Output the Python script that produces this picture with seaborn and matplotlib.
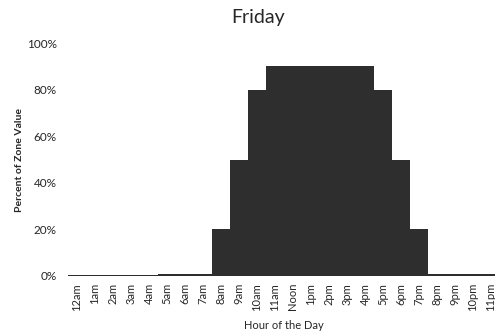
import matplotlib
matplotlib.use("Agg")
import matplotlib.pyplot as plt
import seaborn as sns
import pandas as pd

hours = ["12am", "1am", "2am", "3am", "4am", "5am", "6am", "7am", "8am", "9am",
         "10am", "11am", "Noon", "1pm", "2pm", "3pm", "4pm", "5pm", "6pm", "7pm",
         "8pm", "9pm", "10pm", "11pm"]
values = [0.5, 0.5, 0.5, 0.5, 0.5, 1, 1, 1, 20, 50,
          80, 90, 90, 90, 90, 90, 90, 80, 50, 20,
          1, 1, 1, 1]
y_ticks = [0, 20, 40, 60, 80, 100]
y_tick_labels = ["0%", "20%", "40%", "60%", "80%", "100%"]

df = pd.DataFrame({"hour": hours, "value": values})

sns.set_theme(style="white")
plt.rcParams["font.family"] = ["Lato", "DejaVu Sans"]

fig = plt.figure(figsize=(4.95, 3.33), dpi=100)
ax = fig.add_axes([68 / 495, 57 / 333, 432 / 495, 233 / 333])

sns.barplot(data=df, x="hour", y="value", order=hours, color="#2e2e2e",
            width=1.0, linewidth=0, saturation=1, ax=ax)

ax.set_xlim(-0.5, 23.5)
ax.set_ylim(0, 100)
ax.set_yticks(y_ticks)
ax.set_yticklabels(y_tick_labels, fontsize=8.5)
ax.set_xticks(range(len(hours)))
ax.set_xticklabels(hours, rotation=90, fontsize=8)
ax.tick_params(axis="y", length=0, pad=8)
ax.tick_params(axis="x", length=0, pad=5)
for s in ax.spines.values():
    s.set_visible(False)
ax.set_xlabel("Hour of the Day", fontsize=8, labelpad=6)
ax.set_ylabel("Percent of Zone Value", fontsize=7.5, fontweight="bold", labelpad=2)

fig.text(258 / 495, 1 - 18 / 333, "Friday", ha="center", va="center", fontsize=14)

fig.savefig("out.png", dpi=100)
